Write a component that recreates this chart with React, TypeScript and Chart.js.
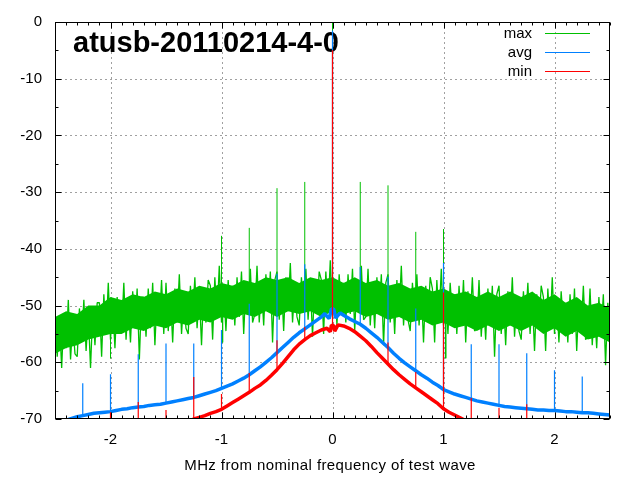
import React, { useEffect, useRef } from "react";
import { Chart, registerables } from "chart.js";

Chart.register(...registerables);

const TITLE = "atusb-20110214-4-0";
const X_TITLE = "MHz from nominal frequency of test wave";
const X_TICKS = [-2, -1, 0, 1, 2];
const Y_TICKS = [-70, -60, -50, -40, -30, -20, -10, 0];
const LEGEND = ["max", "avg", "min"];
const COLORS = ["#00c000", "#0080ff", "#ff0000"];

// max (green): dense core of the noise band, every 0.1 MHz
const MAX_CORE_X = [
  -2.5, -2.4, -2.3, -2.2, -2.1, -2, -1.9, -1.8, -1.7, -1.6,
  -1.5, -1.4, -1.3, -1.2, -1.1, -1, -0.9, -0.8, -0.7, -0.6,
  -0.5, -0.4, -0.3, -0.2, -0.1, 0, 0.1, 0.2, 0.3, 0.4,
  0.5, 0.6, 0.7, 0.8, 0.9, 1, 1.1, 1.2, 1.3, 1.4,
  1.5, 1.6, 1.7, 1.8, 1.9, 2, 2.1, 2.2, 2.3, 2.4,
  2.5,
];
const MAX_CORE_HI = [
  -52, -51, -51.5, -50, -50, -48.5, -49, -48, -48.5, -47.5,
  -48, -47, -47.5, -46.5, -47, -46, -46.5, -45.5, -46, -45,
  -45.5, -45, -46, -45, -45.5, -45, -46, -45, -46, -45.5,
  -46.5, -46, -47, -46.5, -47.5, -47, -48, -47.5, -48.5, -47.5,
  -48.5, -47.5, -48.5, -47.5, -49, -48, -49.5, -48.5, -50, -49.5,
  -50.5,
];
const MAX_CORE_LO = [
  -58.5, -57.5, -57, -56, -55.5, -55, -55, -54, -54.5, -53.5,
  -54, -53, -53.5, -52.5, -53, -52, -52.5, -51.5, -52, -51,
  -52, -51, -51.5, -51, -52, -51, -51.5, -51, -52, -51.5,
  -52.5, -52, -53, -52.5, -53.5, -53, -54, -53.5, -54.5, -53.5,
  -54.5, -53.5, -54.5, -53.5, -55, -54, -55.5, -54.5, -56, -55.5,
  -56.5,
];

// max (green) noise samples every 0.02 MHz
const MAX_X = [
  -2.5, -2.48, -2.46, -2.44, -2.42, -2.4, -2.38, -2.36, -2.34, -2.32,
  -2.3, -2.28, -2.26, -2.24, -2.22, -2.2, -2.18, -2.16, -2.14, -2.12,
  -2.1, -2.08, -2.06, -2.04, -2.02, -2, -1.98, -1.96, -1.94, -1.92,
  -1.9, -1.88, -1.86, -1.84, -1.82, -1.8, -1.78, -1.76, -1.74, -1.72,
  -1.7, -1.68, -1.66, -1.64, -1.62, -1.6, -1.58, -1.56, -1.54, -1.52,
  -1.5, -1.48, -1.46, -1.44, -1.42, -1.4, -1.38, -1.36, -1.34, -1.32,
  -1.3, -1.28, -1.26, -1.24, -1.22, -1.2, -1.18, -1.16, -1.14, -1.12,
  -1.1, -1.08, -1.06, -1.04, -1.02, -1, -0.98, -0.96, -0.94, -0.92,
  -0.9, -0.88, -0.86, -0.84, -0.82, -0.8, -0.78, -0.76, -0.74, -0.72,
  -0.7, -0.68, -0.66, -0.64, -0.62, -0.6, -0.58, -0.56, -0.54, -0.52,
  -0.5, -0.48, -0.46, -0.44, -0.42, -0.4, -0.38, -0.36, -0.34, -0.32,
  -0.3, -0.28, -0.26, -0.24, -0.22, -0.2, -0.18, -0.16, -0.14, -0.12,
  -0.1, -0.08, -0.06, -0.04, -0.02, 0, 0.02, 0.04, 0.06, 0.08,
  0.1, 0.12, 0.14, 0.16, 0.18, 0.2, 0.22, 0.24, 0.26, 0.28,
  0.3, 0.32, 0.34, 0.36, 0.38, 0.4, 0.42, 0.44, 0.46, 0.48,
  0.5, 0.52, 0.54, 0.56, 0.58, 0.6, 0.62, 0.64, 0.66, 0.68,
  0.7, 0.72, 0.74, 0.76, 0.78, 0.8, 0.82, 0.84, 0.86, 0.88,
  0.9, 0.92, 0.94, 0.96, 0.98, 1, 1.02, 1.04, 1.06, 1.08,
  1.1, 1.12, 1.14, 1.16, 1.18, 1.2, 1.22, 1.24, 1.26, 1.28,
  1.3, 1.32, 1.34, 1.36, 1.38, 1.4, 1.42, 1.44, 1.46, 1.48,
  1.5, 1.52, 1.54, 1.56, 1.58, 1.6, 1.62, 1.64, 1.66, 1.68,
  1.7, 1.72, 1.74, 1.76, 1.78, 1.8, 1.82, 1.84, 1.86, 1.88,
  1.9, 1.92, 1.94, 1.96, 1.98, 2, 2.02, 2.04, 2.06, 2.08,
  2.1, 2.12, 2.14, 2.16, 2.18, 2.2, 2.22, 2.24, 2.26, 2.28,
  2.3, 2.32, 2.34, 2.36, 2.38, 2.4, 2.42, 2.44, 2.46, 2.48,
  2.5,
];
const MAX_Y = [
  -50.5, -59, -52.5, -61, -51.5, -57.5, -49, -59.5, -53, -58.5,
  -59, -50.5, -56, -49, -58, -51.5, -61, -51, -57, -49.5,
  -49.5, -59, -48, -55, -46, -56, -50, -57.5, -48.5, -54.5,
  -54.5, -46, -56, -49.5, -56.5, -47.5, -54, -47, -59.5, -48.5,
  -48.5, -55.5, -47, -54, -46, -57, -48, -53.5, -45.5, -55,
  -46, -54.5, -48, -56.5, -47, -53, -44.5, -55, -48.5, -54,
  -55, -46.5, -52, -45, -54, -47.5, -57, -47, -53, -45.5,
  -46.5, -56, -45, -52, -43, -53, -47, -54.5, -45.5, -51.5,
  -46.5, -53.5, -45, -52, -44, -55, -46, -51.5, -43.5, -53,
  -51.5, -43, -53, -46.5, -53.5, -44.5, -51, -44, -56.5, -45.5,
  -44, -52.5, -46, -54.5, -45, -51, -42.5, -53, -46.5, -52,
  -53.5, -45, -50.5, -43.5, -52.5, -46, -55.5, -45.5, -51.5, -44,
  -45.5, -55, -44, -51, -42, -52, -46, -53.5, -44.5, -50.5,
  -46, -53, -44.5, -51.5, -43.5, -54.5, -45.5, -51, -43, -52.5,
  -52, -43.5, -53.5, -47, -54, -45, -51.5, -44.5, -57, -46,
  -44.5, -53, -46.5, -55, -45.5, -51.5, -43, -53.5, -47, -52.5,
  -54.5, -46, -51.5, -44.5, -53.5, -47, -56.5, -46.5, -52.5, -45,
  -47, -56.5, -45.5, -52.5, -43.5, -53.5, -47.5, -55, -46, -52,
  -48, -55, -46.5, -53.5, -45.5, -56.5, -47.5, -53, -45, -54.5,
  -54, -45.5, -55.5, -49, -56, -47, -53.5, -46.5, -59, -48,
  -46.5, -55, -48.5, -57, -47.5, -53.5, -45, -55.5, -49, -54.5,
  -56, -47.5, -53, -46, -55, -48.5, -58, -48, -54, -46.5,
  -48.5, -58, -47, -54, -45, -55, -49, -56.5, -47.5, -53.5,
  -49.5, -56.5, -48, -55, -47, -58, -49, -54.5, -46.5, -56,
  -55.5, -47, -57, -50.5, -57.5, -48.5, -55, -48, -60.5, -49.5,
  -54,
];
// spurs: position, tip value, foot value
const MAX_SPUR_X = [-2, -1, -0.99, -0.75, -0.5, -0.25, 0, 0.25, 0.5, 0.75, 1, 1.02];
const MAX_SPUR_TIP = [-59.3, -37.7, -56.5, -36.3, -29.3, -28.2, 0, -28.2, -28.8, -37, -36.5, -59.3];
const MAX_SPUR_FOOT = [-51, -49, -49, -48.5, -48.5, -48.5, -48, -48.5, -49, -49.5, -50, -50];

// avg (blue)
const AVG_X = [
  -2.5, -2.45, -2.4, -2.35, -2.3, -2.25, -2.2, -2.15, -2.1, -2.05,
  -2, -1.95, -1.9, -1.85, -1.8, -1.75, -1.7, -1.65, -1.6, -1.55,
  -1.5, -1.45, -1.4, -1.35, -1.3, -1.25, -1.2, -1.15, -1.1, -1.05,
  -1, -0.95, -0.9, -0.85, -0.8, -0.75, -0.7, -0.65, -0.6, -0.55,
  -0.5, -0.45, -0.4, -0.35, -0.3, -0.25, -0.2, -0.15, -0.1, -0.07,
  -0.05, -0.03, -0.01, 0.01, 0.03, 0.05, 0.07, 0.1, 0.15, 0.2,
  0.25, 0.3, 0.35, 0.4, 0.45, 0.5, 0.55, 0.6, 0.65, 0.7,
  0.75, 0.8, 0.85, 0.9, 0.95, 1, 1.05, 1.1, 1.15, 1.2,
  1.25, 1.3, 1.35, 1.4, 1.45, 1.5, 1.55, 1.6, 1.65, 1.7,
  1.75, 1.8, 1.85, 1.9, 1.95, 2, 2.05, 2.1, 2.15, 2.2,
  2.25, 2.3, 2.35, 2.4, 2.45, 2.5,
];
const AVG_Y = [
  -70.8, -70.5, -70.2, -69.9, -69.6, -69.4, -69.2, -69.0, -68.9, -68.8,
  -68.7, -68.5, -68.3, -68.2, -68.0, -67.9, -67.8, -67.6, -67.5, -67.4,
  -67.2, -67.0, -66.8, -66.6, -66.4, -66.2, -65.9, -65.6, -65.3, -65.0,
  -64.6, -64.2, -63.8, -63.3, -62.8, -62.2, -61.5, -60.8, -60.0, -59.2,
  -58.3, -57.4, -56.5, -55.6, -54.8, -54.1, -53.4, -52.7, -52.0, -51.4,
  -51.9, -52.3, -50.6, -50.6, -52.2, -51.7, -51.3, -51.7, -52.3, -52.8,
  -53.3, -54.0, -54.8, -55.6, -56.5, -57.4, -58.4, -59.3, -60.1, -60.8,
  -61.5, -62.2, -62.8, -63.5, -64.1, -64.8, -65.2, -65.6, -65.9, -66.2,
  -66.5, -66.8, -67.0, -67.2, -67.4, -67.6, -67.8, -67.9, -68.0, -68.1,
  -68.2, -68.3, -68.4, -68.4, -68.5, -68.5, -68.6, -68.7, -68.7, -68.8,
  -68.9, -68.9, -69.0, -69.1, -69.2, -69.3,
];
const AVG_SPUR_X = [-2.25, -2, -1.75, -1.5, -1.25, -1, -0.75, -0.5, -0.25, 0, 0.25, 0.5, 0.75, 1, 1.25, 1.5, 1.75, 2, 2.25, 2.5];
const AVG_SPUR_TIP = [-63.7, -62.1, -58.6, -56.7, -56.7, -54.3, -49.7, -44.4, -42.7, -1.5, -43.2, -44.9, -50.5, -42.5, -56.8, -56.8, -58.4, -61.4, -62.5, -63.3];
const AVG_SPUR_FOOT = [-69.4, -68.7, -67.9, -67.2, -66.2, -64.6, -62.2, -58.3, -54.1, -51, -53.3, -57.4, -61.5, -64.8, -66.5, -67.6, -68.2, -68.5, -68.9, -69.3];

// min (red)
const MIN_X = [
  -2.5, -1.35, -1.3, -1.25, -1.2, -1.15, -1.1, -1.05, -1, -0.95,
  -0.9, -0.85, -0.8, -0.75, -0.7, -0.65, -0.6, -0.55, -0.5, -0.45,
  -0.4, -0.35, -0.3, -0.25, -0.2, -0.15, -0.1, -0.05, -0.02, -0.01,
  0.01, 0.02, 0.05, 0.1, 0.15, 0.2, 0.25, 0.3, 0.35, 0.4,
  0.45, 0.5, 0.55, 0.6, 0.65, 0.7, 0.75, 0.8, 0.85, 0.9,
  0.95, 1, 1.05, 1.1, 1.15, 1.2, 1.25, 1.3, 2.5,
];
const MIN_Y = [
  -72, -71, -70.5, -70.0, -69.7, -69.4, -69.0, -68.7, -68.3, -67.7,
  -67.1, -66.5, -65.9, -65.3, -64.6, -64.0, -63.2, -62.3, -61.3, -60.2,
  -59.0, -57.8, -56.8, -56.0, -55.3, -54.8, -54.3, -54.0, -54.6, -53.5,
  -53.5, -54.5, -53.4, -53.6, -54.0, -54.6, -55.4, -56.2, -57.2, -58.3,
  -59.3, -60.3, -61.3, -62.2, -63.0, -63.8, -64.5, -65.2, -65.9, -66.6,
  -67.3, -68.2, -68.8, -69.3, -69.8, -70.3, -70.8, -71.2, -72,
];
const MIN_SPUR_X = [-2, -1.75, -1.5, -1.25, -1, -0.75, -0.5, -0.25, 0, 0.5, 0.75, 1, 1.25, 1.5, 1.75];
const MIN_SPUR_TIP = [-68.8, -67, -68.4, -62.6, -65.6, -61.9, -56.1, -53.8, -5, -56.5, -61.7, -47.7, -66.3, -68, -67.4];
const MIN_SPUR_FOOT = [-72, -72, -72, -70, -68.3, -65.3, -61.3, -56, -54, -60.3, -64.5, -68.2, -70.8, -72, -72];

function pairs(xs: number[], ys: number[]) {
  return xs.map((x, i) => ({ x, y: ys[i] }));
}

function spurs(sx: number[], tip: number[], foot: number[]) {
  const pts: { x: number; y: number | null }[] = [];
  sx.forEach((s, i) => {
    pts.push({ x: s, y: foot[i] });
    pts.push({ x: s, y: tip[i] });
    pts.push({ x: s, y: null });
  });
  return pts;
}

const FONT = '"Liberation Sans", Arial, sans-serif';

const gnuplotPlugin = {
  id: "gnuplotFrame",
  beforeDatasetsDraw(chart: any) {
    const { ctx, chartArea: a, scales } = chart;
    const x = scales.x;
    const y = scales.y;
    ctx.save();
    ctx.strokeStyle = "#a0a0a0";
    ctx.lineWidth = 1;
    ctx.setLineDash([2, 3]);
    ctx.beginPath();
    X_TICKS.forEach((v) => {
      const px = Math.round(x.getPixelForValue(v)) + 0.5;
      ctx.moveTo(px, a.top);
      ctx.lineTo(px, a.bottom);
    });
    Y_TICKS.filter((v) => v > -70 && v < 0).forEach((v) => {
      const py = Math.round(y.getPixelForValue(v)) + 0.5;
      ctx.moveTo(a.left, py);
      ctx.lineTo(a.right, py);
    });
    ctx.stroke();
    ctx.setLineDash([]);
    ctx.fillStyle = "#000";
    ctx.font = "bold 29px " + FONT;
    ctx.textAlign = "left";
    ctx.textBaseline = "alphabetic";
    ctx.fillText(TITLE, 73, 52);
    ctx.restore();
  },
  afterDatasetsDraw(chart: any) {
    const { ctx, chartArea: a, scales } = chart;
    const x = scales.x;
    const y = scales.y;
    ctx.save();
    ctx.strokeStyle = "#000";
    ctx.lineWidth = 1;
    const L = Math.round(a.left) + 0.5;
    const R = Math.round(a.right) - 0.5;
    const T = Math.round(a.top) + 0.5;
    const B = Math.round(a.bottom) - 0.5;
    ctx.beginPath();
    for (let k = -25; k <= 25; k++) {
      const px = Math.round(x.getPixelForValue(k / 10)) + 0.5;
      const len = k % 10 === 0 ? 6 : 3;
      ctx.moveTo(px, B);
      ctx.lineTo(px, B - len);
      ctx.moveTo(px, T);
      ctx.lineTo(px, T + len);
    }
    for (let k = -70; k <= 0; k += 5) {
      const py = Math.round(y.getPixelForValue(k)) + 0.5;
      const len = k % 10 === 0 ? 6 : 3;
      ctx.moveTo(L, py);
      ctx.lineTo(L + len, py);
      ctx.moveTo(R, py);
      ctx.lineTo(R - len, py);
    }
    ctx.stroke();
    ctx.strokeRect(L, T, R - L, B - T);

    ctx.font = "15px " + FONT;
    ctx.fillStyle = "#000";
    ctx.textAlign = "right";
    ctx.textBaseline = "alphabetic";
    LEGEND.forEach((label, i) => {
      const ly = 33 + i * 19;
      ctx.fillText(label, 532, ly + 4.5);
      ctx.strokeStyle = COLORS[i];
      ctx.beginPath();
      ctx.moveTo(545, ly + 0.5);
      ctx.lineTo(590, ly + 0.5);
      ctx.stroke();
    });

    ctx.textAlign = "center";
    try {
      (ctx as any).letterSpacing = "0.4px";
    } catch (e) {}
    ctx.fillText(X_TITLE, 330, 470);
    ctx.restore();
  },
};

export default function App() {
  const ref = useRef<HTMLCanvasElement | null>(null);
  useEffect(() => {
    if (!ref.current) return;
    const line = (label: string, data: any[], color: string, width: number, order: number, extra: any = {}) => ({
      label,
      data,
      borderColor: color,
      backgroundColor: color,
      borderWidth: width,
      pointRadius: 0,
      borderJoinStyle: "bevel",
      spanGaps: false,
      fill: false,
      order,
      clip: 0,
      ...extra,
    });
    const chart = new Chart(ref.current, {
      type: "line",
      data: {
        datasets: [
          line(LEGEND[0], pairs(MAX_CORE_X, MAX_CORE_HI), COLORS[0], 0, 9, { fill: "+1" }),
          line(LEGEND[0], pairs(MAX_CORE_X, MAX_CORE_LO), COLORS[0], 0, 8),
          line(LEGEND[0], pairs(MAX_X, MAX_Y), COLORS[0], 1.3, 7),
          line(LEGEND[0], spurs(MAX_SPUR_X, MAX_SPUR_TIP, MAX_SPUR_FOOT), COLORS[0], 1, 6),
          line(LEGEND[1], pairs(AVG_X, AVG_Y), COLORS[1], 3.5, 5),
          line(LEGEND[1], spurs(AVG_SPUR_X, AVG_SPUR_TIP, AVG_SPUR_FOOT), COLORS[1], 1.2, 4),
          line(LEGEND[2], pairs(MIN_X, MIN_Y), COLORS[2], 3.5, 3),
          line(LEGEND[2], spurs(MIN_SPUR_X, MIN_SPUR_TIP, MIN_SPUR_FOOT), COLORS[2], 1.2, 2),
        ],
      },
      options: {
        animation: false,
        responsive: false,
        events: [],
        layout: { padding: { top: 20, right: 30, left: 0, bottom: 0 } },
        plugins: { legend: { display: false }, tooltip: { enabled: false }, title: { display: false } },
        scales: {
          x: {
            type: "linear",
            min: -2.5,
            max: 2.5,
            afterBuildTicks: (s: any) => {
              s.ticks = X_TICKS.map((v) => ({ value: v }));
            },
            afterFit: (s: any) => {
              s.height = 61;
            },
            grid: { display: false, drawTicks: false },
            border: { display: false },
            ticks: { padding: 12, color: "#000", font: { family: FONT, size: 15 }, maxRotation: 0, autoSkip: false },
          },
          y: {
            type: "linear",
            min: -70,
            max: 0,
            afterBuildTicks: (s: any) => {
              s.ticks = Y_TICKS.map((v) => ({ value: v }));
            },
            afterFit: (s: any) => {
              s.width = 55;
            },
            grid: { display: false, drawTicks: false },
            border: { display: false },
            ticks: { padding: 13, color: "#000", font: { family: FONT, size: 15 }, autoSkip: false },
          },
        },
      },
      plugins: [gnuplotPlugin],
    } as any);
    return () => chart.destroy();
  }, []);
  return (
    <div style={{ position: "absolute", left: 0, top: 0, width: 640, height: 480, background: "#fff" }}>
      <canvas ref={ref} width={640} height={480} />
    </div>
  );
}
